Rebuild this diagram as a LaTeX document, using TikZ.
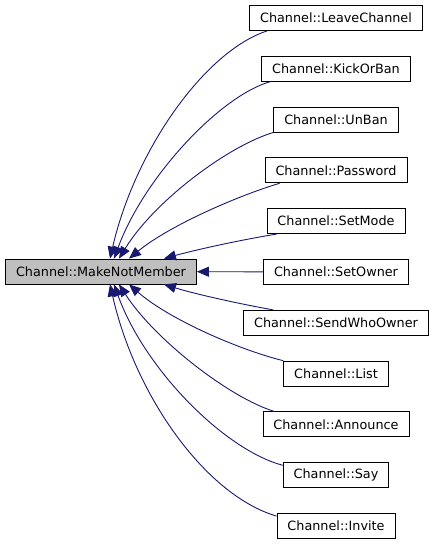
\documentclass[tikz,border=0pt]{standalone}
\usepackage{fontspec}
\setmainfont{DejaVu Sans}
\usetikzlibrary{arrows.meta, positioning}
\definecolor{edgeblue}{HTML}{191970}
\definecolor{mainfill}{HTML}{BFBFBF}

\begin{document}
\begin{tikzpicture}[
    x=1pt, y=1pt,
    node distance=25pt,
    every node/.style={
        draw=black,
        line width=0.8pt,
        rectangle,
        align=center,
        minimum height=25pt,
        inner xsep=10.5pt,
        inner ysep=0pt,
        font=\fontsize{12.8}{15}\selectfont,
        fill=white
    },
    callarrow/.style={-{Triangle[length=12pt, width=10pt]}, edgeblue, line width=0.9pt}
]
\useasboundingbox (0,0) rectangle (433,544);

% ---------- CALLED FUNCTION
\node[fill=mainfill] (main) at (101,272.5) {Channel::MakeNotMember};

% ---------- CALLERS (RIGHT COLUMN)
\node (leave) at (336,526) {Channel::LeaveChannel};
\node (kick) [below=of leave] {Channel::KickOrBan};
\node (unban) [below=of kick] {Channel::UnBan};
\node (password) [below=of unban] {Channel::Password};
\node (setmode) [below=of password] {Channel::SetMode};
\node (setowner) [below=of setmode] {Channel::SetOwner};
\node (sendwho) [below=of setowner] {Channel::SendWhoOwner};
\node (list) [below=of sendwho] {Channel::List};
\node (announce) [below=of list] {Channel::Announce};
\node (say) [below=of announce] {Channel::Say};
\node (invite) [below=of say] {Channel::Invite};

% ---------- UPPER EDGES
\draw[callarrow] ([xshift=18pt]leave.south west) .. controls (205,493) and (135,394) .. ([xshift=9pt]main.north);
\draw[callarrow] ([xshift=9pt]kick.south west) .. controls (222,449) and (145,369) .. ([xshift=13pt]main.north);
\draw[callarrow] ([xshift=0pt]unban.south west) .. controls (230,399) and (155,344) .. ([xshift=18pt]main.north);
\draw[callarrow] ([xshift=15pt]password.south west) .. controls (240,349) and (170,319) .. ([xshift=28pt]main.north);
\draw[callarrow] ([xshift=10pt]setmode.south west) .. controls (240,304) and (195,294) .. ([xshift=63pt]main.north);

% ---------- STRAIGHT ACROSS
\draw[callarrow] (setowner) -- (main);

% ---------- LOWER EDGES
\draw[callarrow] ([xshift=30pt]sendwho.north west) .. controls (240,240) and (195,250) .. ([xshift=63pt]main.south);
\draw[callarrow] ([xshift=0pt]list.north west) .. controls (240,194) and (170,224) .. ([xshift=28pt]main.south);
\draw[callarrow] ([xshift=12pt]announce.north west) .. controls (230,146) and (155,204) .. ([xshift=18pt]main.south);
\draw[callarrow] ([yshift=-3pt]say.north west) .. controls (225,94) and (145,174) .. ([xshift=13pt]main.south);
\draw[callarrow] ([yshift=-3pt]invite.north west) .. controls (205,49) and (135,149) .. ([xshift=9pt]main.south);

\end{tikzpicture}
\end{document}
